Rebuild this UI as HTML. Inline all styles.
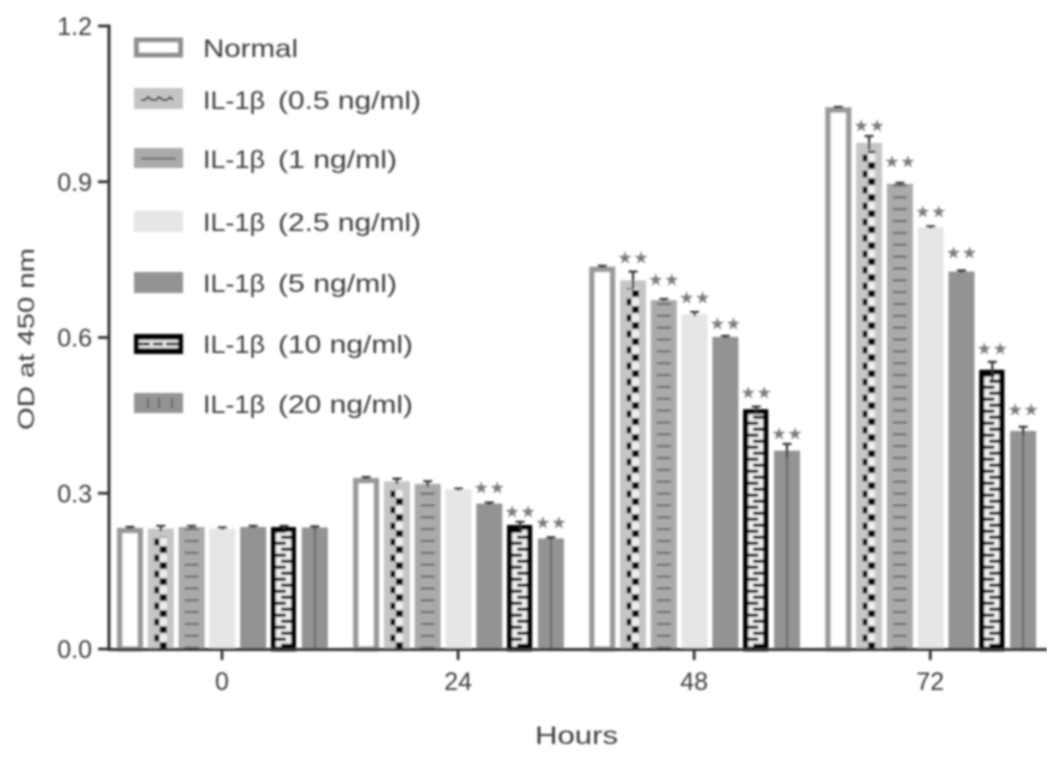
<!DOCTYPE html>
<html><head><meta charset="utf-8"><title>OD at 450 nm</title>
<style>
html,body{margin:0;padding:0;background:#fff;width:1063px;height:759px;overflow:hidden}
svg{display:block}
text{font-family:"Liberation Sans",sans-serif;fill:#3c3c3c}
</style></head>
<body>
<svg id="chart" xmlns="http://www.w3.org/2000/svg" width="1063" height="759" viewBox="0 0 1063 759">
<defs>
<filter id="soft" x="0" y="0" width="100%" height="100%"><feGaussianBlur stdDeviation="1"/></filter>
<pattern id="p-checker" patternUnits="userSpaceOnUse" x="0" y="649" width="26" height="16">
  <rect x="12" y="9" width="7" height="7" fill="#000"/>
  <rect x="12" y="1" width="7" height="8" fill="#eee"/>
  <rect x="6.5" y="1.5" width="5" height="7" fill="#000"/>
</pattern>
<pattern id="p-dash" patternUnits="userSpaceOnUse" x="0" y="649" width="26" height="11.85">
  <rect x="6" y="9.5" width="14" height="2" fill="#666"/>
</pattern>
<pattern id="p-meander" patternUnits="userSpaceOnUse" x="0" y="649" width="25" height="12">
  <rect width="25" height="12" fill="#000"/>
  <rect x="5" y="0" width="15" height="12" fill="#f0f0f0"/>
  <rect x="5" y="0.5" width="10" height="3.4" fill="#000"/>
  <rect x="10" y="6.5" width="10" height="3.4" fill="#000"/>
</pattern>
</defs>
<g id="root" filter="url(#soft)">
<g id="bars"></g>
<g id="axes"></g>
<g>
  <g>
    <rect x="136.5" y="40" width="44" height="15" fill="#fff" stroke="#8f8f8f" stroke-width="5"/>
    <text x="203" y="57" font-size="25" textLength="95" lengthAdjust="spacingAndGlyphs">Normal</text>
  </g>
  <g>
    <rect x="134" y="88" width="49" height="21" fill="#c4c4c4"/>
    <path d="M141 100h4l3-3 4 3h4l3-3 4 3h4l3-3 3 3" fill="none" stroke="#222" stroke-width="1.8"/>
    <text y="109" font-size="25"><tspan x="203" textLength="62" lengthAdjust="spacingAndGlyphs">IL-1β</tspan> <tspan x="278" textLength="143" lengthAdjust="spacingAndGlyphs">(0.5 ng/ml)</tspan></text>
  </g>
  <g>
    <rect x="134" y="148" width="49" height="20" fill="#aaa"/>
    <rect x="141" y="157.5" width="35" height="2" fill="#6a6a6a"/>
    <text y="168" font-size="25"><tspan x="203" textLength="62" lengthAdjust="spacingAndGlyphs">IL-1β</tspan> <tspan x="278" textLength="119" lengthAdjust="spacingAndGlyphs">(1 ng/ml)</tspan></text>
  </g>
  <g>
    <rect x="134" y="211" width="49" height="21" fill="#e6e6e6"/>
    <text y="231" font-size="25"><tspan x="203" textLength="62" lengthAdjust="spacingAndGlyphs">IL-1β</tspan> <tspan x="278" textLength="143" lengthAdjust="spacingAndGlyphs">(2.5 ng/ml)</tspan></text>
  </g>
  <g>
    <rect x="134" y="272" width="49" height="21" fill="#939393"/>
    <text y="292" font-size="25"><tspan x="203" textLength="62" lengthAdjust="spacingAndGlyphs">IL-1β</tspan> <tspan x="278" textLength="119" lengthAdjust="spacingAndGlyphs">(5 ng/ml)</tspan></text>
  </g>
  <g>
    <rect x="134" y="334" width="49" height="20" fill="#000"/>
    <rect x="139" y="340" width="39" height="8" fill="#e8e8e8"/>
    <path d="M139 344h11M153 344h10M166 344h12" stroke="#000" stroke-width="2.8" fill="none"/>
    <text y="353" font-size="25"><tspan x="203" textLength="62" lengthAdjust="spacingAndGlyphs">IL-1β</tspan> <tspan x="278" textLength="135" lengthAdjust="spacingAndGlyphs">(10 ng/ml)</tspan></text>
  </g>
  <g>
    <rect x="134" y="393" width="49" height="20" fill="#939393"/>
    <path d="M148 398v10M159 398v10M172 398v10" stroke="#666" stroke-width="2" fill="none"/>
    <text y="413" font-size="25"><tspan x="203" textLength="62" lengthAdjust="spacingAndGlyphs">IL-1β</tspan> <tspan x="278" textLength="135" lengthAdjust="spacingAndGlyphs">(20 ng/ml)</tspan></text>
  </g>
</g>
</g>
</svg>
<script>
// Chart data
const hours = ['0', '24', '48', '72'];
const seriesNames = ['normal', 'il1b-0-5', 'il1b-1', 'il1b-2-5', 'il1b-5', 'il1b-10', 'il1b-20'];
const normal = [0.233, 0.329, 0.736, 1.043];
const il1b05 = [0.232, 0.323, 0.710, 0.975];
const il1b1 = [0.235, 0.318, 0.672, 0.896];
const il1b25 = [0.232, 0.307, 0.645, 0.812];
const il1b5 = [0.235, 0.280, 0.601, 0.727];
const il1b10 = [0.233, 0.237, 0.460, 0.536];
const il1b20 = [0.234, 0.213, 0.382, 0.420];
const errNormal = [0.002, 0.002, 0.002, 0.001];
const err05 = [0.005, 0.005, 0.017, 0.013];
const err1 = [0.002, 0.005, 0.002, 0.002];
const err25 = [0.002, 0.002, 0.004, 0.002];
const err5 = [0.002, 0.002, 0.002, 0.002];
const err10 = [0.004, 0.008, 0.007, 0.017];
const err20 = [0.002, 0.002, 0.013, 0.008];
// Height of each "**" significance label, in OD units (null = no label)
const sigNormal = [null, null, null, null];
const sig05 = [null, null, 0.755, 1.009];
const sig1 = [null, null, 0.713, 0.940];
const sig25 = [null, null, 0.678, 0.844];
const sig5 = [null, 0.312, 0.628, 0.765];
const sig10 = [null, 0.266, 0.495, 0.580];
const sig20 = [null, 0.245, 0.416, 0.462];
const yTicks = [0, 0.3, 0.6, 0.9, 1.2];
const yTickLabels = ['0.0', '0.3', '0.6', '0.9', '1.2'];

const allValues = [normal, il1b05, il1b1, il1b25, il1b5, il1b10, il1b20];
const allErrors = [errNormal, err05, err1, err25, err5, err10, err20];
const allSig = [sigNormal, sig05, sig1, sig25, sig5, sig10, sig20];

const NS = 'http://www.w3.org/2000/svg';
const y = v => 649 - v * (623 / 1.2);
const groupStart = g => 117 + g * 236.1;
const barX = (g, s) => groupStart(g) + s * 30.8;
const groupCenter = g => groupStart(g) + 105;
const BW = 26;

function make(parent, tag, attrs, text) {
  const el = document.createElementNS(NS, tag);
  for (const k in attrs) el.setAttribute(k, attrs[k]);
  if (text !== undefined) el.textContent = text;
  parent.appendChild(el);
  return el;
}

const barsG = document.getElementById('bars');
hours.forEach((h, g) => {
  seriesNames.forEach((name, s) => {
    const v = allValues[s][g], e = allErrors[s][g], sig = allSig[s][g];
    const x = barX(g, s), top = y(v), h0 = 649 - top;
    const bar = make(barsG, 'g', { transform: 'translate(' + x + ',0)' });
    
    
    if (s === 0) {
      make(bar, 'rect', { x: 2.7, y: top + 2.5, width: BW - 5.4, height: h0 - 2.5, fill: '#fff', stroke: '#999', 'stroke-width': 5.4 });
    } else if (s === 1) {
      make(bar, 'rect', { x: 0, y: top, width: BW, height: h0, fill: '#c6c6c6' });
      make(bar, 'rect', { x: 0, y: top + 8, width: BW, height: h0 - 8, fill: 'url(#p-checker)' });
    } else if (s === 2) {
      make(bar, 'rect', { x: 0, y: top, width: BW, height: h0, fill: '#aaa' });
      make(bar, 'rect', { x: 0, y: top, width: BW, height: h0, fill: 'url(#p-dash)' });
    } else if (s === 3) {
      make(bar, 'rect', { x: 0, y: top, width: BW, height: h0, fill: '#e6e6e6' });
    } else if (s === 4) {
      make(bar, 'rect', { x: 0, y: top, width: BW, height: h0, fill: '#939393' });
    } else if (s === 5) {
      make(bar, 'rect', { x: 0, y: top, width: 25, height: h0, fill: 'url(#p-meander)' });
      make(bar, 'rect', { x: 2.5, y: top + 1.5, width: 20, height: h0 - 1.5, fill: 'none', stroke: '#000', 'stroke-width': 5 });
    } else {
      make(bar, 'rect', { x: 0, y: top, width: BW, height: h0, fill: '#939393' });
      make(bar, 'rect', { x: 12.2, y: top, width: 1.8, height: h0, fill: '#626262' });
    }
    // error bar
    const eTop = y(v + e), cx = BW / 2;
    const err = make(bar, 'path', { d: 'M' + (cx - 4.5) + ' ' + eTop + 'h9M' + cx + ' ' + eTop + 'V' + y(v - e), stroke: '#333', 'stroke-width': 2.2, fill: 'none' });
    
    
    // significance
    if (sig !== null) {
      [-8, 8].forEach(dx => {
        const star = make(bar, 'text', { x: cx + dx, y: y(sig) + 6.5, 'font-size': 17, 'text-anchor': 'middle', style: 'fill:#7c7c7c;font-family:"DejaVu Sans",sans-serif' }, '★');
        
        
      });
    }
  });
});

const axesG = document.getElementById('axes');
const yAxis = make(axesG, 'line', { x1: 109, y1: 24.5, x2: 109, y2: 650.5, stroke: '#333', 'stroke-width': 3 });


const xAxis = make(axesG, 'line', { x1: 107.5, y1: 649.5, x2: 1047, y2: 649.5, stroke: '#333', 'stroke-width': 3 });


yTicks.forEach((t, i) => {
  const mark = make(axesG, 'line', { x1: 98, y1: y(t), x2: 109, y2: y(t), stroke: '#333', 'stroke-width': 2.8 });
  
  
  const label = make(axesG, 'text', { x: 92, y: y(t) + 9, 'font-size': 25, 'text-anchor': 'end' }, yTickLabels[i]);
  
  
});
hours.forEach((h, g) => {
  const cx = groupCenter(g);
  const mark = make(axesG, 'line', { x1: cx, y1: 649, x2: cx, y2: 660, stroke: '#333', 'stroke-width': 2.8 });
  
  
  const label = make(axesG, 'text', { x: cx, y: 690, 'font-size': 25, 'text-anchor': 'middle' }, h);
  
  
});
const xTitle = make(axesG, 'text', { x: 535, y: 744, 'font-size': 25, textLength: 83, lengthAdjust: 'spacingAndGlyphs' }, 'Hours');


const yTitle = make(axesG, 'text', { transform: 'translate(34,430) rotate(-90)', 'font-size': 23, textLength: 182, lengthAdjust: 'spacingAndGlyphs' }, 'OD at 450 nm');


</script>
</body></html>
